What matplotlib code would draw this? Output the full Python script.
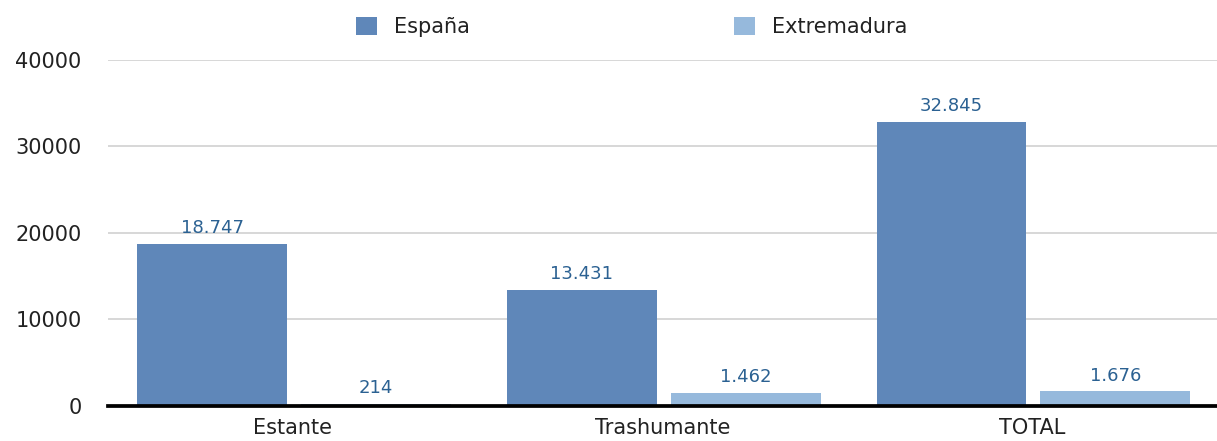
import numpy as np
import matplotlib.pyplot as plt

categorias = ['Estante', 'Trashumante', 'TOTAL']
espana = [18747, 13431, 32845]
extremadura = [214, 1462, 1676]
yticks = [0, 10000, 20000, 30000, 40000]

col_esp = '#5f87b9'
col_ext = '#96b9dc'
col_lab = '#2b6192'


def fmt(v):
    return '{:,}'.format(v).replace(',', '.')


fig = plt.figure(figsize=(12.17, 4.41), dpi=100)
ax = fig.add_axes([0.0887, 0.0794, 0.9113, 0.7846])

x = np.arange(len(categorias))
w = 0.405
b1 = ax.bar(x - 0.218, espana, w, color=col_esp, label='España', zorder=2)
b2 = ax.bar(x + 0.225, extremadura, w, color=col_ext, label='Extremadura', zorder=2)

for bars, vals in [(b1, espana), (b2, extremadura)]:
    for r, v in zip(bars, vals):
        ax.annotate(fmt(v), (r.get_x() + r.get_width() / 2, v),
                    xytext=(0, 5), textcoords='offset points',
                    ha='center', va='bottom', fontsize=13, color=col_lab)

ax.set_xlim(-0.5, 2.5)
ax.set_ylim(0, 40000)
ax.set_yticks(yticks)
ax.set_yticklabels([str(t) for t in yticks])
ax.set_xticks(x)
ax.set_xticklabels(categorias)
ax.tick_params(axis='y', length=0, pad=19, labelsize=15, colors='#222222')
ax.tick_params(axis='x', length=0, pad=9, labelsize=15, colors='#222222')
ax.grid(axis='y', color='#d4d4d4', linewidth=1.3, zorder=0)
for s in ['top', 'right', 'left']:
    ax.spines[s].set_visible(False)
ax.spines['bottom'].set_linewidth(2.7)
ax.spines['bottom'].set_color('black')
ax.spines['bottom'].set_zorder(3)

leg = fig.legend(loc='center', bbox_to_anchor=(0.519, 0.939), ncol=2,
                 frameon=False, fontsize=15, handlelength=1.0, handleheight=1.0,
                 handletextpad=0.8, columnspacing=12.7)
for t in leg.get_texts():
    t.set_color('#222222')

fig.savefig('out.png', dpi=100)
